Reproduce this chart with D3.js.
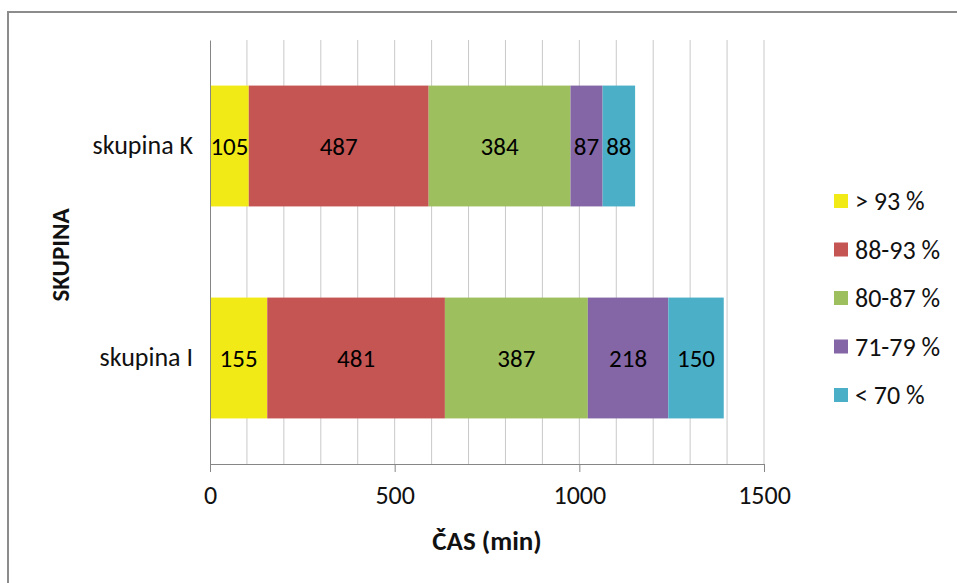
<!DOCTYPE html>
<html>
<head>
<meta charset="utf-8">
<style>
    body { margin: 0; background: #fff; }
    svg { display: block; font-family: Carlito, Calibri, Lato, sans-serif; }
    .grid line { stroke: #c9c9c9; stroke-width: 1px; }
</style>
</head>
<body>
<svg id="chart" width="957" height="583"></svg>
<script src="https://cdn.jsdelivr.net/npm/d3@7"></script>
<script>
// data
const groups = ["skupina K", "skupina I"]
const categories = ["> 93 %", "88-93 %", "80-87 %", "71-79 %", "< 70 %"]
const valuesK = [105, 487, 384, 87, 88]
const valuesI = [155, 481, 387, 218, 150]
const xTicks = [0, 500, 1000, 1500]
const colors = ["#f2ea17", "#c55553", "#9dbf5e", "#8466a6", "#4bafc8"]

const svg = d3.select("#chart")

// outer chart border (only top and left visible in frame)
svg.append("rect")
    .attr("x", 8).attr("y", 12)
    .attr("width", 1000).attr("height", 700)
    .style("fill", "none")
    .style("stroke", "#8c8c8c")
    .style("stroke-width", 2)

let x = d3.scaleLinear()
    .domain([0, 1500])
    .range([210, 764])

let y = d3.scaleBand()
    .domain(groups)
    .range([40, 464])
    .paddingInner(0.43)
    .paddingOuter(0.215)

// gridlines every 100
svg.append("g")
    .attr("class", "grid")
    .selectAll("line")
    .data(d3.range(100, 1501, 100))
    .join("line")
    .attr("x1", d => x(d)).attr("x2", d => x(d))
    .attr("y1", 40).attr("y2", 464)

// stacked rows
const rows = groups.map((g, i) => {
    const vals = i === 0 ? valuesK : valuesI
    let start = 0
    return vals.map((v, j) => {
        const seg = { group: g, cat: j, value: v, x0: start, x1: start + v }
        start += v
        return seg
    })
}).flat()

svg.append("g")
    .selectAll("rect")
    .data(rows)
    .join("rect")
    .attr("x", d => x(d.x0))
    .attr("width", d => x(d.x1) - x(d.x0))
    .attr("y", d => y(d.group))
    .attr("height", y.bandwidth())
    .style("fill", d => colors[d.cat])

svg.append("g")
    .selectAll("text")
    .data(rows)
    .join("text")
    .attr("x", d => (x(d.x0) + x(d.x1)) / 2)
    .attr("y", d => y(d.group) + y.bandwidth() / 2)
    .attr("text-anchor", "middle")
    .attr("dominant-baseline", "central")
    .style("font-size", "25px")
    .style("fill", "#000")
    .text(d => d.value)

// x axis
let xAxis = svg.append("g")
    .attr("transform", "translate(0,464)")
    .call(d3.axisBottom(x).tickValues(xTicks).tickFormat(d3.format("d")).tickSize(8).tickPadding(14))
xAxis.select(".domain").attr("stroke", "#868686")
xAxis.selectAll(".tick line").attr("stroke", "#868686")
xAxis.selectAll(".tick text")
    .style("font-size", "26px")
    .style("font-family", "Carlito, Calibri, Lato, sans-serif")
    .style("fill", "#111")

// y axis
let yAxis = svg.append("g")
    .attr("transform", "translate(210,0)")
    .call(d3.axisLeft(y).tickSize(0).tickPadding(17))
yAxis.select(".domain").attr("stroke", "#868686")
yAxis.selectAll(".tick text")
    .style("font-size", "26px")
    .style("font-family", "Carlito, Calibri, Lato, sans-serif")
    .style("fill", "#111")

// axis titles
svg.append("text")
    .attr("x", 487).attr("y", 540)
    .attr("text-anchor", "middle")
    .attr("dominant-baseline", "central")
    .style("font-size", "27px")
    .style("font-weight", "bold")
    .style("fill", "#111")
    .text("ČAS (min)")

svg.append("text")
    .attr("transform", "translate(60,255) rotate(-90)")
    .attr("text-anchor", "middle")
    .attr("dominant-baseline", "central")
    .style("font-size", "25px")
    .style("font-weight", "bold")
    .style("fill", "#111")
    .text("SKUPINA")

// legend
const legend = svg.append("g")
    .selectAll("g")
    .data(categories)
    .join("g")
    .attr("transform", (d, i) => `translate(834,${201 + i * 48.5})`)

legend.append("rect")
    .attr("x", 0).attr("y", -7)
    .attr("width", 14).attr("height", 14)
    .style("fill", (d, i) => colors[i])

legend.append("text")
    .attr("x", 21)
    .attr("dominant-baseline", "central")
    .style("font-size", "26px")
    .style("fill", "#111")
    .text(d => d)
</script>
</body>
</html>
